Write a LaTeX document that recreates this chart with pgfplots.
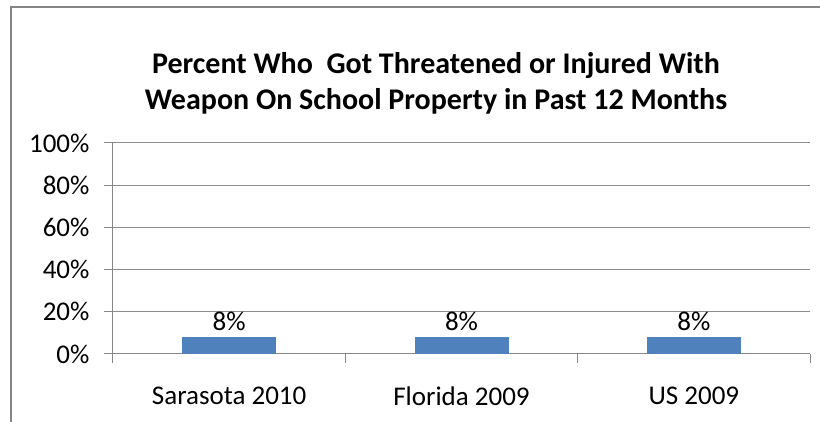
\documentclass[border=0pt]{standalone}
\usepackage{pgfplots}
\pgfplotsset{compat=1.18}
\usepackage{fontspec}
\setmainfont{Carlito}
\definecolor{barblue}{HTML}{4F81BD}
\definecolor{gridgray}{HTML}{8C8C8C}
\definecolor{axgray}{HTML}{868686}
\begin{document}
\begin{tikzpicture}[x=1pt,y=1pt]
\useasboundingbox (0,0) rectangle (820,422);
\draw[axgray, line width=2pt] (11,-5) -- (11,415) -- (830,415);
\node[anchor=base, font=\bfseries\fontsize{30}{36}\selectfont] at (436,348) {Percent Who\ \ Got Threatened or Injured With};
\node[anchor=base, font=\bfseries\fontsize{30}{36}\selectfont] at (436,312) {Weapon On School Property in Past 12 Months};
\begin{axis}[
  at={(113pt,68pt)}, anchor=south west,
  scale only axis, width=697pt, height=211pt,
  xmin=-0.5, xmax=2.5, ymin=0, ymax=100,
  axis x line*=bottom, axis y line*=left,
  axis line style={axgray, line width=1pt},
  xtick={-0.5,0.5,1.5,2.5},
  xticklabels={Sarasota 2010,Florida 2009,US 2009},
  x tick label as interval,
  ytick={0,20,40,60,80,100},
  yticklabels={0\%,20\%,40\%,60\%,80\%,100\%},
  tick align=outside, major tick length=9pt,
  tick style={axgray, line width=1pt},
  ymajorgrids, grid style={gridgray, line width=1pt},
  tick label style={font=\fontsize{27}{32}\selectfont},
  y tick label style={xshift=-11pt},
  x tick label style={yshift=-20pt},
  /pgf/number format/assume math mode=true,
  ybar, bar width=93pt,
  nodes near coords={\pgfmathprintnumber{\pgfplotspointmeta}\%},
  every node near coord/.append style={font=\fontsize{27}{32}\selectfont, anchor=base, yshift=7pt, black},
]
\addplot[fill=barblue, draw=barblue] coordinates {(0,8) (1,8) (2,8)};
\end{axis}
\end{tikzpicture}
\end{document}
